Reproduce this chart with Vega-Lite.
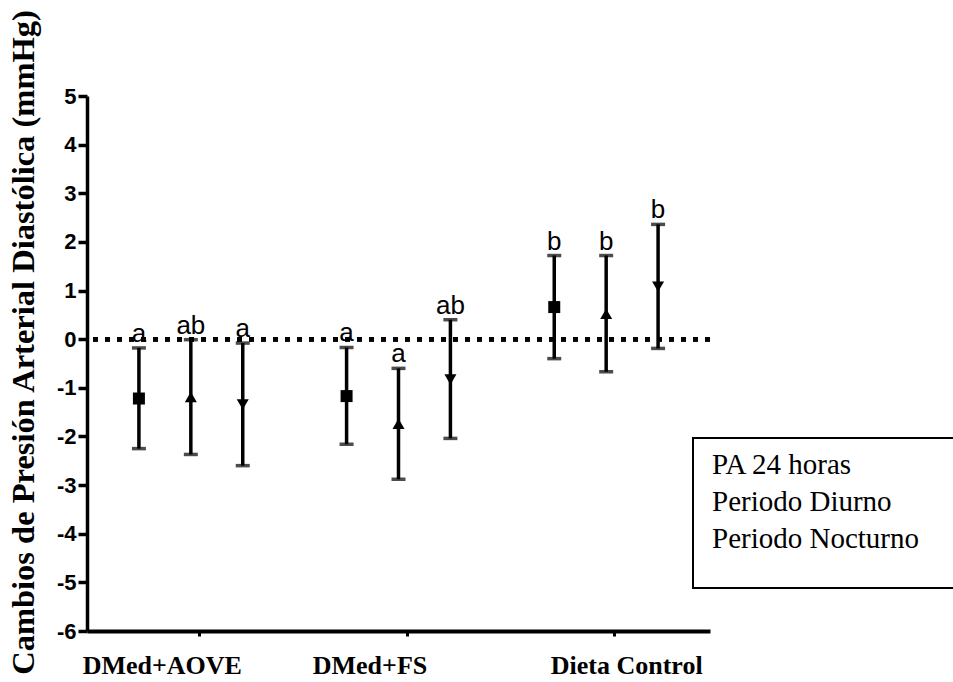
{
  "$schema": "https://vega.github.io/schema/vega-lite/v6.json",
  "autosize": {"type": "none"},
  "padding": {"left": 87, "top": 96, "right": 243, "bottom": 51},
  "width": 623,
  "height": 535,
  "background": "white",
  "config": {
    "view": {"stroke": null},
    "axisX": {
      "labelAngle": 0,
      "labelFont": "Liberation Serif",
      "labelFontWeight": "bold",
      "labelFontSize": 26,
      "labelColor": "black",
      "labelPadding": 16,
      "tickSize": 5,
      "tickWidth": 3,
      "tickColor": "black",
      "domainColor": "black",
      "domainWidth": 4,
      "grid": false
    },
    "axisY": {
      "titleFont": "Liberation Serif",
      "titleFontWeight": "bold",
      "titleFontSize": 32.5,
      "titleColor": "black",
      "labelFont": "Liberation Sans",
      "labelFontWeight": "bold",
      "labelFontSize": 22,
      "labelColor": "black",
      "labelPadding": 2,
      "tickSize": 9,
      "tickWidth": 3.5,
      "tickColor": "black",
      "domainColor": "black",
      "domainWidth": 3.5,
      "grid": false
    },
    "legend": {
      "labelFont": "Liberation Serif",
      "labelFontSize": 29,
      "labelColor": "black",
      "labelFontWeight": "normal",
      "strokeWidth": 2
    }
  },
  "data": {
    "values": [
      {"grupo": "DMed+AOVE", "serie": "PA 24 horas", "media": -1.22, "inf": -2.25, "sup": -0.18, "letra": "a"},
      {"grupo": "DMed+AOVE", "serie": "Periodo Diurno", "media": -1.19, "inf": -2.37, "sup": -0.01, "letra": "ab"},
      {"grupo": "DMed+AOVE", "serie": "Periodo Nocturno", "media": -1.34, "inf": -2.6, "sup": -0.08, "letra": "a"},
      {"grupo": "DMed+FS", "serie": "PA 24 horas", "media": -1.17, "inf": -2.16, "sup": -0.17, "letra": "a"},
      {"grupo": "DMed+FS", "serie": "Periodo Diurno", "media": -1.74, "inf": -2.88, "sup": -0.6, "letra": "a"},
      {"grupo": "DMed+FS", "serie": "Periodo Nocturno", "media": -0.83, "inf": -2.04, "sup": 0.4, "letra": "ab"},
      {"grupo": "Dieta Control", "serie": "PA 24 horas", "media": 0.66, "inf": -0.4, "sup": 1.72, "letra": "b"},
      {"grupo": "Dieta Control", "serie": "Periodo Diurno", "media": 0.52, "inf": -0.67, "sup": 1.72, "letra": "b"},
      {"grupo": "Dieta Control", "serie": "Periodo Nocturno", "media": 1.08, "inf": -0.19, "sup": 2.36, "letra": "b"}
    ]
  },
  "layer": [
    {
      "mark": {"type": "rule", "color": "black", "strokeWidth": 4, "strokeDash": [5, 7]},
      "encoding": {
        "y": {
          "datum": 0,
          "type": "quantitative",
          "scale": {"domain": [-6, 5], "nice": false, "zero": false},
          "axis": {
            "title": "Cambios de Presión Arterial Diastólica (mmHg)",
            "titleX": -64,
            "titleY": 246,
            "titleAlign": "center",
            "titleBaseline": "middle",
            "titleAngle": -90,
            "values": [-6, -5, -4, -3, -2, -1, 0, 1, 2, 3, 4, 5],
            "labelFont": "Liberation Sans",
            "labelFontWeight": "bold",
            "labelFontSize": 22,
            "labelExpr": "replace(datum.label, '\u2212', '-')"
          }
        }
      }
    },
    {
      "mark": {"type": "rule", "color": "black", "strokeWidth": 3.5},
      "encoding": {
        "x": {
          "field": "grupo",
          "type": "nominal",
          "sort": ["DMed+AOVE", "DMed+FS", "Dieta Control"],
          "scale": {"paddingInner": 0, "paddingOuter": 0},
          "axis": {
            "title": null,
            "tickOffset": 8,
            "labelOffset": {"condition": {"test": "datum.label == 'Dieta Control'", "value": 12}, "value": -37}
          }
        },
        "xOffset": {
          "field": "serie",
          "type": "nominal",
          "sort": ["PA 24 horas", "Periodo Diurno", "Periodo Nocturno"],
          "scale": {"type": "point", "padding": 1.93}
        },
        "y": {"field": "inf", "type": "quantitative"},
        "y2": {"field": "sup"}
      }
    },
    {
      "mark": {"type": "tick", "color": "black", "size": 14, "thickness": 3.5},
      "encoding": {
        "x": {"field": "grupo", "type": "nominal", "sort": ["DMed+AOVE", "DMed+FS", "Dieta Control"]},
        "xOffset": {"field": "serie", "type": "nominal", "sort": ["PA 24 horas", "Periodo Diurno", "Periodo Nocturno"]},
        "y": {"field": "inf", "type": "quantitative"}
      }
    },
    {
      "mark": {"type": "tick", "color": "black", "size": 14, "thickness": 3.5},
      "encoding": {
        "x": {"field": "grupo", "type": "nominal", "sort": ["DMed+AOVE", "DMed+FS", "Dieta Control"]},
        "xOffset": {"field": "serie", "type": "nominal", "sort": ["PA 24 horas", "Periodo Diurno", "Periodo Nocturno"]},
        "y": {"field": "sup", "type": "quantitative"}
      }
    },
    {
      "mark": {"type": "point", "filled": true, "color": "black", "opacity": 1, "size": 144},
      "encoding": {
        "x": {"field": "grupo", "type": "nominal", "sort": ["DMed+AOVE", "DMed+FS", "Dieta Control"]},
        "xOffset": {"field": "serie", "type": "nominal", "sort": ["PA 24 horas", "Periodo Diurno", "Periodo Nocturno"]},
        "y": {"field": "media", "type": "quantitative"},
        "shape": {
          "field": "serie",
          "type": "nominal",
          "scale": {
            "domain": ["PA 24 horas", "Periodo Diurno", "Periodo Nocturno"],
            "range": ["square", "triangle-up", "triangle-down"]
          },
          "legend": {
            "orient": "none",
            "legendX": 606,
            "legendY": 342,
            "title": "MMMMMMMMMMMMMMMMMMM",
            "titleOrient": "bottom",
            "titleOpacity": 0,
            "titleFont": "Liberation Serif",
            "titleFontWeight": "normal",
            "titleFontSize": 14.3,
            "titleLimit": 2000,
            "titlePadding": 7,
            "padding": 12,
            "strokeColor": "black",
            "symbolOpacity": 0,
            "symbolSize": 16,
            "labelOffset": -22,
            "labelFont": "Liberation Serif",
            "labelFontSize": 29,
            "labelColor": "black",
            "labelLimit": 400,
            "rowPadding": 7
          }
        }
      }
    },
    {
      "mark": {"type": "text", "font": "Liberation Sans", "fontSize": 26, "color": "black", "baseline": "alphabetic", "align": "center", "dy": -6},
      "encoding": {
        "x": {"field": "grupo", "type": "nominal", "sort": ["DMed+AOVE", "DMed+FS", "Dieta Control"]},
        "xOffset": {"field": "serie", "type": "nominal", "sort": ["PA 24 horas", "Periodo Diurno", "Periodo Nocturno"]},
        "y": {"field": "sup", "type": "quantitative"},
        "text": {"field": "letra"}
      }
    }
  ]
}
